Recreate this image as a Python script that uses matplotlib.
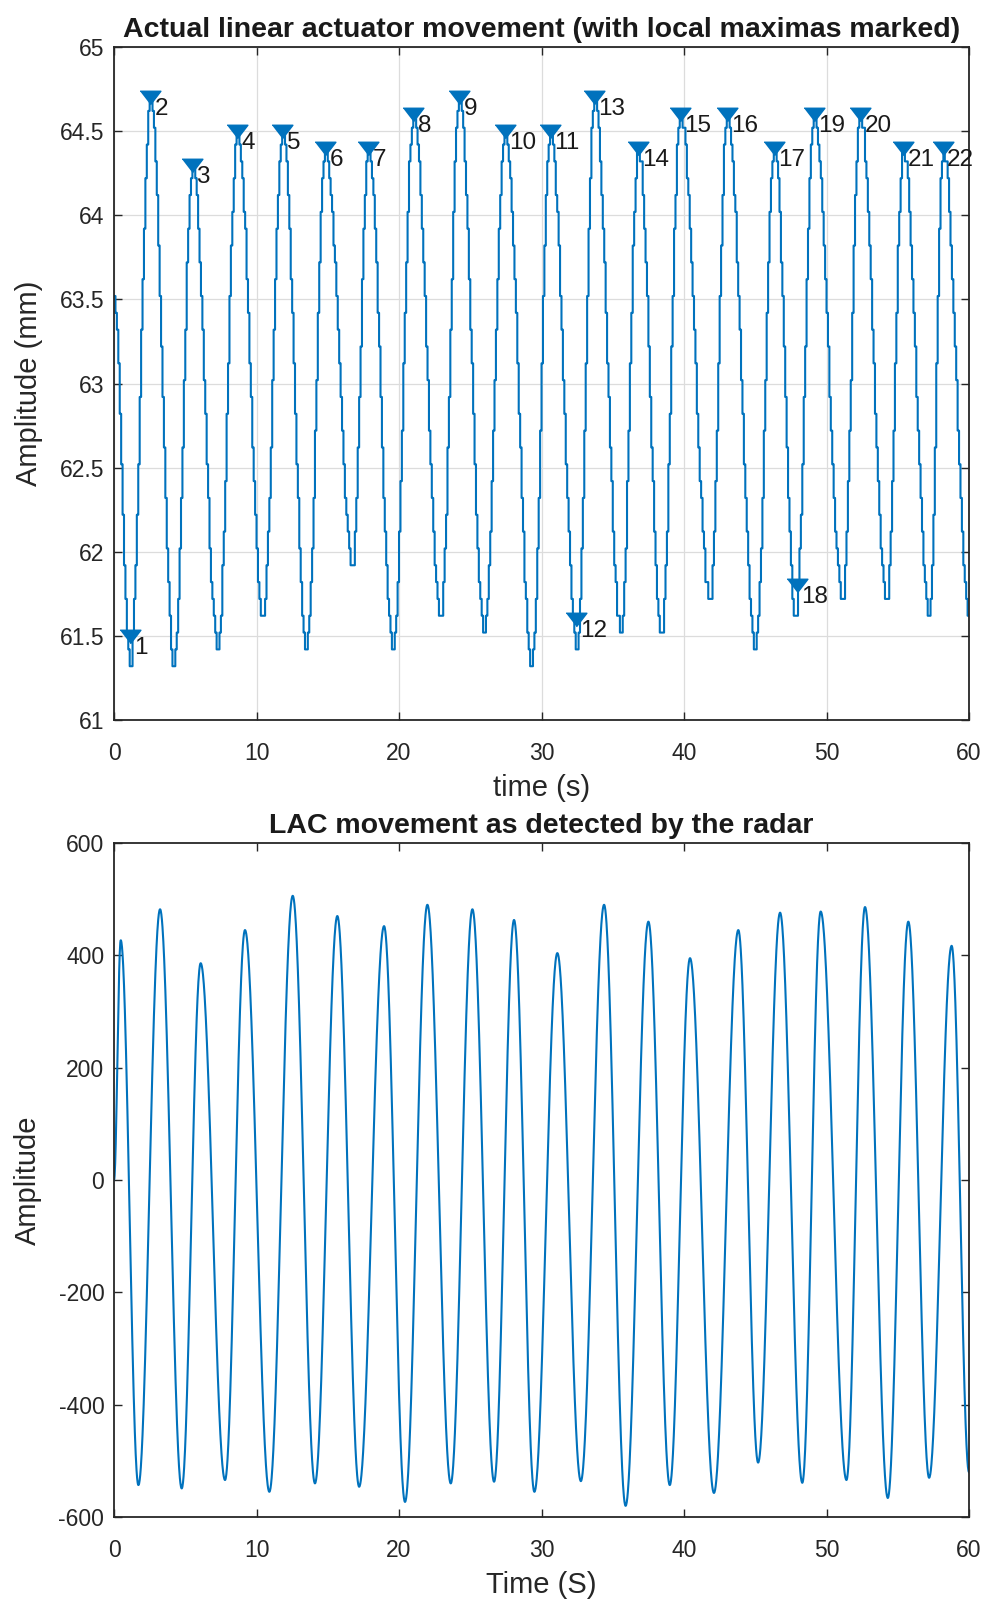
import numpy as np
import matplotlib.pyplot as plt

plt.rcParams['font.family'] = ['Liberation Sans', 'DejaVu Sans']
plt.rcParams['axes.unicode_minus'] = False

# actuator position, turning points of the motion (s, mm)
act_t = [0.0, 1.1, 2.55, 4.2, 5.49, 7.25, 8.65, 10.43, 11.81, 13.5, 14.82, 16.7, 17.84, 19.55,
         21.0, 22.9, 24.22, 25.96, 27.45, 29.3, 30.6, 32.47, 33.69, 35.55, 36.78, 38.4, 39.73,
         41.8, 43.02, 45.0, 46.33, 47.8, 49.12, 51.1, 52.35, 54.2, 55.37, 57.2, 58.17, 60.0]
act_v = [63.5, 61.33, 64.7, 61.33, 64.3, 61.43, 64.5, 61.61, 64.5, 61.43, 64.4, 61.92, 64.4, 61.43,
         64.6, 61.61, 64.7, 61.52, 64.5, 61.33, 64.5, 61.43, 64.7, 61.52, 64.4, 61.52, 64.6,
         61.72, 64.6, 61.43, 64.4, 61.61, 64.6, 61.72, 64.6, 61.72, 64.4, 61.61, 64.4, 61.63]

# local maxima found on the actuator trace
pk_t = [1.1, 2.55, 5.49, 8.65, 11.81, 14.82, 17.84, 21.0, 24.22, 27.45, 30.6, 32.4, 33.69,
        36.78, 39.73, 43.02, 46.33, 47.9, 49.12, 52.35, 55.37, 58.17]
pk_v = [61.5, 64.7, 64.3, 64.5, 64.5, 64.4, 64.4, 64.6, 64.7, 64.5, 64.5, 61.6, 64.7,
        64.4, 64.6, 64.6, 64.4, 61.8, 64.6, 64.6, 64.4, 64.4]

# radar output, turning points
rad_t = [0.0, 0.47, 1.71, 3.23, 4.75, 6.08, 7.79, 9.19, 10.9, 12.54, 14.1, 15.67, 17.2, 18.95,
         20.42, 21.99, 23.63, 25.15, 26.67, 28.07, 29.5, 31.11, 32.76, 34.39, 35.9, 37.5, 39.0,
         40.42, 42.1, 43.81, 45.2, 46.74, 48.3, 49.59, 51.4, 52.7, 54.3, 55.74, 57.2, 58.78, 60.0]
rad_v = [0, 427, -543, 482, -549, 386, -534, 445, -555, 506, -540, 470, -546, 452,
         -573, 490, -540, 482, -537, 463, -555, 404, -536, 490, -580, 460, -543,
         395, -557, 445, -503, 476, -539, 478, -534, 486, -566, 460, -530, 417, -520]

BLUE = '#0072BD'
AX_COL = '#262626'


def trace(tp, vp, t):
    # half-cosine swing between consecutive turning points
    tp = np.asarray(tp, float)
    vp = np.asarray(vp, float)
    i = np.clip(np.searchsorted(tp, t, side='right') - 1, 0, len(tp) - 2)
    s = (t - tp[i]) / (tp[i + 1] - tp[i])
    return vp[i] + (vp[i + 1] - vp[i]) * (1 - np.cos(np.pi * s)) / 2


def style(ax):
    ax.tick_params(direction='in', top=True, right=True, length=6, width=1,
                   labelsize=16.5, colors=AX_COL)
    ax.tick_params(axis='x', pad=16)
    ax.tick_params(axis='y', pad=7)
    for sp in ax.spines.values():
        sp.set_color(AX_COL)
        sp.set_linewidth(1.3)


fig = plt.figure(figsize=(9.89, 16.03), dpi=100)

# --- actuator (sampled encoder, 0.1 mm resolution) ---
ax1 = fig.add_axes([0.1153, 0.5508, 0.8645, 0.4199])
ts = np.arange(0, 60.001, 0.1)
pos = trace(act_t, act_v, ts)
pos = 61.32 + np.round((pos - 61.32) / 0.1) * 0.1
ax1.plot(ts, pos, color=BLUE, lw=1.5, drawstyle='steps-post')
ax1.plot(pk_t, pk_v, linestyle='none', marker=[(-1, 0.6), (1, 0.6), (0, -0.7)],
         ms=15, color=BLUE)
for k, (x, y) in enumerate(zip(pk_t, pk_v)):
    ax1.text(x + 0.3, y - 0.07, str(k + 1), fontsize=17.5, ha='left', va='center',
             color='#1a1a1a')
ax1.set_xlim(0, 60)
ax1.set_ylim(61, 65)
ax1.set_xticks(np.arange(0, 61, 10))
ax1.set_yticks(np.arange(61, 65.01, 0.5))
ax1.set_yticklabels(['61', '61.5', '62', '62.5', '63', '63.5', '64', '64.5', '65'])
ax1.grid(True, color='#dcdcdc', lw=0.9)
ax1.set_axisbelow(True)
style(ax1)
ax1.set_title('Actual linear actuator movement (with local maximas marked)',
              fontsize=20.5, fontweight='bold', pad=7, color='#1a1a1a')
ax1.set_xlabel('time (s)', fontsize=21, labelpad=6, color=AX_COL)
ax1.set_ylabel('Amplitude (mm)', fontsize=21, labelpad=12, color=AX_COL)

# --- radar ---
ax2 = fig.add_axes([0.1153, 0.0536, 0.8645, 0.4205])
tr = np.arange(0, 60.001, 0.02)
ax2.plot(tr, trace(rad_t, rad_v, tr), color=BLUE, lw=1.5)
ax2.set_xlim(0, 60)
ax2.set_ylim(-600, 600)
ax2.set_xticks(np.arange(0, 61, 10))
ax2.set_yticks(np.arange(-600, 601, 200))
style(ax2)
ax2.set_title('LAC movement as detected by the radar', fontsize=20.5, fontweight='bold',
              pad=7, color='#1a1a1a')
ax2.set_xlabel('Time (S)', fontsize=21, labelpad=6, color=AX_COL)
ax2.set_ylabel('Amplitude', fontsize=21, labelpad=12, color=AX_COL)

fig.savefig('out.png', dpi=100)
